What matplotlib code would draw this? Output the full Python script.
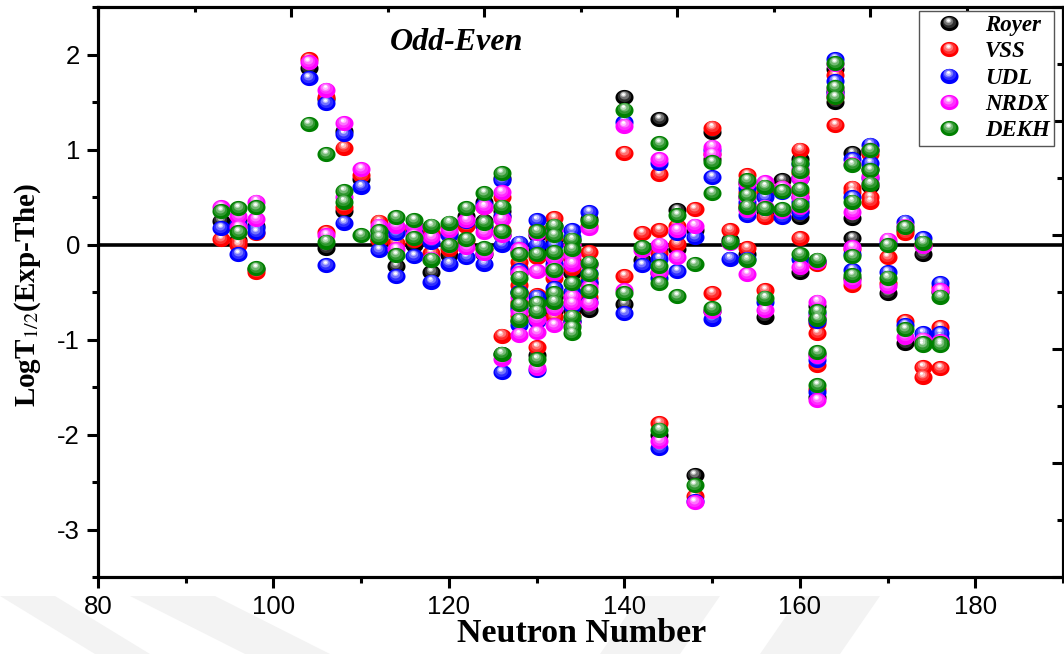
import numpy as np
import matplotlib
matplotlib.use("Agg")
import matplotlib.pyplot as plt
from matplotlib.path import Path
from matplotlib.transforms import offset_copy
from matplotlib.legend_handler import HandlerBase
from matplotlib.lines import Line2D
from matplotlib.ticker import MultipleLocator
from matplotlib.colors import to_rgb
from matplotlib.patches import Polygon

plt.rcParams['axes.unicode_minus'] = False
plt.rcParams['mathtext.fontset'] = 'stix'

# ---------------- data ----------------
neutron = [94,
           96, 96,
           98, 98,
           104,
           106, 106,
           108, 108,
           110,
           112, 112,
           114, 114,
           116, 116,
           118, 118,
           120, 120,
           122, 122,
           124, 124, 124,
           126, 126, 126, 126,
           128, 128, 128, 128, 128,
           130, 130, 130, 130, 130,
           132, 132, 132, 132, 132, 132,
           134, 134, 134, 134, 134, 134,
           136, 136, 136, 136,
           140, 140,
           142,
           144, 144, 144, 144,
           146, 146,
           148, 148,
           150, 150, 150,
           152,
           154, 154, 154, 154,
           156, 156, 156,
           158, 158,
           160, 160, 160, 160, 160,
           162, 162, 162, 162, 162,
           164, 164, 164,
           166, 166, 166, 166,
           168, 168, 168,
           170, 170,
           172, 172,
           174, 174, 174,
           176, 176, 176]

royer = [0.25,
         0.26, 0.05,
         0.20, -0.26,
         1.86,
         1.53, -0.04,
         1.20, 0.35,
         0.69,
         0.15, 0.05,
         0.15, -0.23,
         0.20, 0.00,
         0.10, -0.29,
         0.12, -0.11,
         0.30, 0.00,
         0.45, 0.25, -0.10,
         0.70, 0.35, 0.10, -1.15,
         -0.08, -0.30, -0.50, -0.65, -0.80,
         0.10, -0.04, -0.60, -0.75, -1.16,
         0.20, 0.05, -0.15, -0.30, -0.55, -0.70,
         0.05, -0.10, -0.30, -0.55, -0.70, -0.80,
         0.27, -0.20, -0.40, -0.69,
         1.55, -0.63,
         -0.16,
         1.32, -0.05, -0.30, -2.00,
         0.36, -0.05,
         0.15, -2.43,
         1.18, 0.90, -0.70,
         0.05,
         0.65, 0.50, 0.38, -0.10,
         0.60, 0.35, -0.76,
         0.68, 0.35,
         0.90, 0.70, 0.50, 0.29, -0.29,
         -0.18, -0.65, -0.78, -1.15, -1.60,
         1.85, 1.62, 1.50,
         0.96, 0.28, 0.07, -0.35,
         1.00, 0.80, 0.62,
         0.00, -0.51,
         0.15, -1.04,
         -0.10, -1.00, -1.05,
         -0.50, -1.00, -1.05]

vss = [0.06,
       0.03, 0.00,
       0.12, -0.29,
       1.95,
       1.55, 0.13,
       1.02, 0.40,
       0.73,
       0.24, 0.05,
       0.18, 0.02,
       0.15, 0.05,
       0.12, -0.09,
       0.18, -0.05,
       0.20, 0.05,
       0.40, 0.20, -0.05,
       0.50, 0.30, 0.15, -0.96,
       -0.18, -0.25, -0.43, -0.60, -0.75,
       0.15, -0.13, -0.53, -0.70, -1.08,
       0.28, 0.08, -0.10, -0.35, -0.50, -0.76,
       0.00, -0.15, -0.25, -0.50, -0.60, -0.75,
       0.20, -0.08, -0.35, -0.55,
       0.96, -0.33,
       0.12,
       0.74, 0.15, -0.09, -1.88,
       0.20, 0.01,
       0.37, -2.65,
       1.23, 0.95, -0.51,
       0.15,
       0.73, 0.55, 0.42, -0.04,
       0.55, 0.29, -0.48,
       0.60, 0.30,
       1.00, 0.75, 0.55, 0.35, 0.07,
       -0.20, -0.83, -0.93, -1.27, -1.52,
       1.78, 1.55, 1.26,
       0.60, 0.55, -0.05, -0.43,
       0.95, 0.45, 0.50,
       -0.13, -0.40,
       0.12, -0.81,
       0.00, -1.29, -1.39,
       -0.45, -0.87, -1.30]

udl = [0.17,
       0.22, -0.10,
       0.17, 0.13,
       1.75,
       1.49, -0.22,
       1.16, 0.23,
       0.61,
       0.10, -0.06,
       0.12, -0.33,
       0.12, -0.12,
       0.03, -0.39,
       0.10, -0.20,
       0.25, -0.13,
       0.42, 0.20, -0.20,
       0.68, 0.30, 0.00, -1.34,
       0.02, -0.27, -0.50, -0.68, -0.85,
       0.26, 0.00, -0.55, -0.80, -1.32,
       0.15, 0.00, -0.20, -0.25, -0.46, -0.65,
       0.15, 0.08, -0.20, -0.50, -0.65, -0.80,
       0.34, -0.30, -0.39, -0.60,
       1.29, -0.72,
       -0.22,
       0.86, -0.15, -0.35, -2.14,
       0.12, -0.28,
       0.08, -2.70,
       1.00, 0.71, -0.78,
       -0.15,
       0.60, 0.45, 0.31, -0.15,
       0.50, 0.38, -0.60,
       0.55, 0.29,
       0.85, 0.70, 0.45, 0.34, -0.15,
       -0.17, -0.72, -0.80, -1.22, -1.55,
       1.95, 1.72, 1.60,
       0.90, 0.50, -0.10, -0.27,
       1.05, 0.86, 0.70,
       0.02, -0.29,
       0.24, -0.85,
       0.07, -0.93, -0.98,
       -0.41, -0.93, -0.98]

nrdx = [0.39,
        0.30, 0.18,
        0.45, 0.27,
        1.92,
        1.63, 0.10,
        1.28, 0.50,
        0.79,
        0.20, 0.10,
        0.20, -0.05,
        0.20, 0.10,
        0.08, -0.15,
        0.15, 0.00,
        0.26, -0.03,
        0.40, 0.13, -0.09,
        0.55, 0.27, 0.10, -1.20,
        -0.05, -0.30, -0.55, -0.71, -0.95,
        0.12, -0.28, -0.78, -0.92, -1.30,
        0.15, -0.13, -0.25, -0.30, -0.67, -0.85,
        0.00, -0.11, -0.20, -0.55, -0.62, -0.85,
        0.17, -0.20, -0.45, -0.62,
        1.25, -0.48,
        -0.06,
        0.90, 0.00, -0.29, -2.07,
        0.15, -0.13,
        0.20, -2.71,
        1.03, 0.95, -0.70,
        0.02,
        0.65, 0.50, 0.36, -0.31,
        0.66, 0.40, -0.69,
        0.60, 0.35,
        0.80, 0.70, 0.50, 0.40, -0.24,
        -0.18, -0.60, -0.75, -1.17, -1.64,
        1.90, 1.65, 1.57,
        0.85, 0.34, -0.03, -0.38,
        1.00, 0.72, 0.65,
        0.05, -0.44,
        0.20, -0.97,
        -0.02, -1.00, -1.02,
        -0.48, -1.02, -1.05]

dekh = [0.35,
        0.38, 0.13,
        0.39, -0.25,
        1.27,
        0.95, 0.03,
        0.56, 0.45,
        0.10,
        0.14, 0.08,
        0.29, -0.11,
        0.26, 0.07,
        0.20, -0.16,
        0.23, -0.01,
        0.38, 0.06,
        0.54, 0.23, -0.04,
        0.75, 0.40, 0.14, -1.15,
        -0.10, -0.35, -0.51, -0.63, -0.79,
        0.14, -0.10, -0.62, -0.70, -1.21,
        0.20, 0.10, -0.08, -0.27, -0.51, -0.60,
        0.05, -0.05, -0.41, -0.76, -0.87, -0.93,
        0.25, -0.19, -0.31, -0.49,
        1.42, -0.51,
        -0.03,
        1.07, -0.23, -0.41, -1.95,
        0.31, -0.54,
        -0.21, -2.53,
        0.87, 0.54, -0.67,
        0.03,
        0.68, 0.52, 0.40, -0.16,
        0.61, 0.38, -0.56,
        0.56, 0.37,
        0.86, 0.77, 0.58, 0.42, -0.10,
        -0.16, -0.70, -0.78, -1.13, -1.48,
        1.91, 1.66, 1.55,
        0.84, 0.45, -0.12, -0.32,
        0.99, 0.78, 0.64,
        -0.01, -0.35,
        0.18, -0.89,
        0.02, -1.04, -1.06,
        -0.55, -1.04, -1.06]

series_names = ["Royer", "VSS", "UDL", "NRDX", "DEKH"]
series_colors = ["#000000", "#ff0000", "#0000ff", "#ff00ff", "#008000"]
series_values = [royer, vss, udl, nrdx, dekh]

# ---------------- style helpers ----------------
W, H = 1064, 654
MS = 13.0
t = np.linspace(0, 2 * np.pi, 64)
ev = np.column_stack([np.cos(t), 0.84 * np.sin(t)])
ELL = Path(np.vstack([ev, ev[:1]]), closed=True)
# (scale, white-mix, dx px, dy px)
LAYERS = [(1.00, 0.00, 0.0, 0.0),
          (0.74, 0.18, -0.4, 1.3),
          (0.52, 0.45, -0.8, 2.3),
          (0.32, 0.75, -1.1, 3.0),
          (0.17, 1.00, -1.2, 3.3)]


def mix(c, m):
    r = np.array(to_rgb(c))
    return tuple(r + (1 - r) * m)


class SphereHandler(HandlerBase):
    def __init__(self, color):
        super().__init__()
        self.color = color

    def create_artists(self, legend, orig_handle, xdescent, ydescent,
                       width, height, fontsize, trans):
        cx = width / 2 - xdescent
        cy = height / 2 - ydescent
        arts = []
        for s, m, dx, dy in LAYERS:
            ln = Line2D([cx + dx * 0.72], [cy + dy * 0.72], ls='none', marker=ELL,
                        ms=MS * s, mfc=mix(self.color, m), mec='none', mew=0)
            ln.set_transform(trans)
            arts.append(ln)
        return arts


fig = plt.figure(figsize=(W / 100, H / 100), dpi=100)
fig.patch.set_facecolor('white')

# faint background watermark stripes below the axes
stripes = [[(0, 596), (55, 596), (150, 654), (95, 654)],
           [(130, 596), (215, 596), (330, 654), (245, 654)],
           [(640, 596), (720, 596), (680, 654), (600, 654)],
           [(800, 596), (880, 596), (840, 654), (760, 654)]]
for st in stripes:
    fig.patches.append(Polygon([(px / W, 1 - py / H) for px, py in st], closed=True,
                               transform=fig.transFigure, facecolor='#f3f3f3',
                               edgecolor='none', zorder=-10))

ax = fig.add_axes([98 / W, 1 - 577 / H, (1063 - 98) / W, 570 / H])
ax.set_xlim(80, 190)
ax.set_ylim(-3.5, 2.5)
ax.axhline(0, color='black', lw=2.6, zorder=1)

x = np.array(neutron, dtype=float)
for k, (vals, col) in enumerate(zip(series_values, series_colors)):
    y = np.array(vals, dtype=float)
    for s, m, dx, dy in LAYERS:
        tr = offset_copy(ax.transData, fig=fig, x=dx, y=dy, units='dots')
        ax.plot(x, y, ls='none', marker=ELL, ms=MS * s, mfc=mix(col, m),
                mec='none', mew=0, transform=tr, zorder=3 + k)

# axes styling
for sp in ax.spines.values():
    sp.set_linewidth(2.2)
ax.xaxis.set_major_locator(MultipleLocator(20))
ax.xaxis.set_minor_locator(MultipleLocator(10))
ax.yaxis.set_major_locator(MultipleLocator(1))
ax.yaxis.set_minor_locator(MultipleLocator(0.5))
ax.tick_params(axis='both', which='major', direction='out', length=8, width=2.2,
               labelsize=18.5, pad=5)
ax.tick_params(axis='both', which='minor', direction='out', length=4, width=2.2)
for lab in ax.get_xticklabels() + ax.get_yticklabels():
    lab.set_fontfamily('Liberation Sans')

ax.set_xlabel('Neutron Number', fontfamily='Liberation Serif', fontweight='bold',
              fontsize=24.5, va='center')
ax.xaxis.set_label_coords((582 - 98) / 965, (577 - 633) / 570)
ax.set_ylabel(r'LogT$_{1/2}$(Exp-The)', fontfamily='Liberation Serif',
              fontweight='bold', fontsize=21, va='center', ha='center')
ax.yaxis.set_label_coords((28 - 98) / 965, (577 - 295) / 570)

ax.text((390 - 98) / 965, (577 - 42) / 570, 'Odd-Even', transform=ax.transAxes,
        fontfamily='Liberation Serif', fontweight='bold', fontstyle='italic',
        fontsize=23, ha='left', va='center')

# secondary (unlabelled) top and right tick scales
axt = ax.twiny()
axt.set_xlim(0, 5)
axt.xaxis.set_major_locator(MultipleLocator(1))
axt.xaxis.set_minor_locator(MultipleLocator(0.5))
axt.tick_params(axis='x', which='major', direction='in', length=7, width=2.2,
                labeltop=False)
axt.tick_params(axis='x', which='minor', direction='in', length=3.5, width=2.2)
axr = ax.twinx()
axr.set_ylim(0, 5)
axr.yaxis.set_major_locator(MultipleLocator(1))
axr.yaxis.set_minor_locator(MultipleLocator(0.5))
axr.tick_params(axis='y', which='major', direction='in', length=8, width=2.2,
                labelright=False)
axr.tick_params(axis='y', which='minor', direction='in', length=4, width=2.2)
for a in (axt, axr):
    for sp in a.spines.values():
        sp.set_linewidth(2.2)

# legend
handles = [Line2D([], [], ls='none') for _ in series_names]
hmap = {h: SphereHandler(c) for h, c in zip(handles, series_colors)}
leg = axr.legend(handles, series_names, handler_map=hmap, loc='upper right',
                 bbox_to_anchor=(1054 / W, 1 - 11 / H), bbox_transform=fig.transFigure,
                 borderaxespad=0, frameon=True, fancybox=False, framealpha=1,
                 edgecolor='#555555', borderpad=0.18, handlelength=2.25,
                 handletextpad=0.45, labelspacing=0.23,
                 prop={'family': 'Liberation Serif', 'weight': 'bold',
                       'style': 'italic', 'size': 16.5})
leg.get_frame().set_linewidth(1.0)

fig.savefig('out.png', dpi=100)
